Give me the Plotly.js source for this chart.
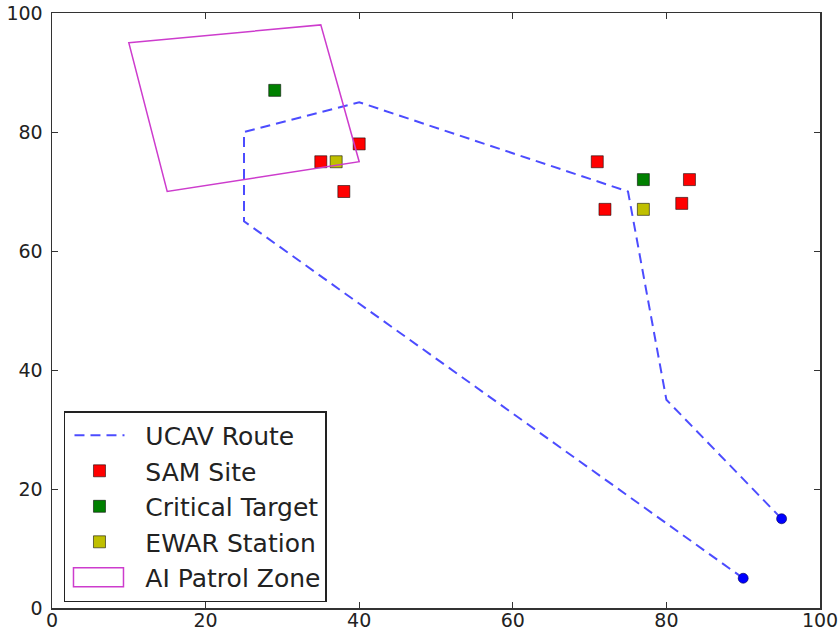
<!DOCTYPE html>
<html>
<head>
<meta charset="utf-8">
<script src="https://cdn.plot.ly/plotly-3.0.1.min.js"></script>
<style>
html,body{margin:0;padding:0;background:#fff;}
#chart{width:840px;height:636px;}
</style>
</head>
<body>
<div id="chart"></div>
<script>
// UCAV route waypoints
const routeX = [90, 25, 25, 40, 75, 80, 95];
const routeY = [5, 65, 80, 85, 70, 35, 15];
// SAM sites
const samX = [35, 40, 38, 71, 72, 83, 82];
const samY = [75, 78, 70, 75, 67, 72, 68];
// Critical targets
const targetX = [29, 77];
const targetY = [87, 72];
// EWAR stations
const ewarX = [37, 77];
const ewarY = [75, 67];
// AI patrol zone polygon
const zoneX = [10, 35, 40, 15];
const zoneY = [95, 98, 75, 70];
// Axis ticks
const tickVals = [0, 20, 40, 60, 80, 100];
// Legend names
const names = ["UCAV Route", "SAM Site", "Critical Target", "EWAR Station", "AI Patrol Zone"];

const font = "DejaVu Sans, sans-serif";
const markerLine = {color: "rgba(0,0,0,0.55)", width: 1};
const zoneColor = "rgb(205,60,205)";
const pad = "\u00a0\u00a0";

const traces = [
  {
    type: "scatter", mode: "lines", name: pad + names[0],
    x: routeX, y: routeY,
    line: {color: "rgba(0,0,255,0.7)", width: 2, dash: "10px,6px"},
    legendgroup: "a", legendrank: 1
  },
  {
    type: "scatter", mode: "markers", name: pad + names[1],
    x: samX, y: samY,
    marker: {symbol: "square", size: 12, color: "#ff0000", line: markerLine},
    legendgroup: "b", legendrank: 2
  },
  {
    type: "scatter", mode: "markers", name: pad + names[2],
    x: targetX, y: targetY,
    marker: {symbol: "square", size: 12, color: "#008000", line: markerLine},
    legendgroup: "c", legendrank: 3
  },
  {
    type: "scatter", mode: "markers", name: pad + names[3],
    x: ewarX, y: ewarY,
    marker: {symbol: "square", size: 12, color: "#bfbf00", line: markerLine},
    legendgroup: "d", legendrank: 4
  },
  {
    type: "scatter", mode: "markers", showlegend: false,
    x: [routeX[0], routeX[routeX.length - 1]],
    y: [routeY[0], routeY[routeY.length - 1]],
    marker: {symbol: "circle", size: 10, color: "#0000ff", line: {color: "rgba(0,0,80,0.6)", width: 1}}
  }
];

const zonePath = zoneX.map((x, i) => (i === 0 ? "M" : "L") + x + "," + zoneY[i]).join(" ") + " Z";

const axisCommon = {
  range: [0, 100], tickvals: tickVals, ticktext: tickVals.map(String),
  ticks: "inside", ticklen: 6, tickwidth: 1, tickcolor: "#333",
  showline: true, linecolor: "#333", linewidth: 1.5, mirror: "ticks",
  showgrid: false, zeroline: false, fixedrange: true,
  tickfont: {family: font, size: 19, color: "#222"}
};

const layout = {
  width: 840, height: 636,
  margin: {l: 52, r: 20, t: 13, b: 28},
  paper_bgcolor: "#fff", plot_bgcolor: "#fff",
  font: {family: font, color: "#222"},
  xaxis: Object.assign({}, axisCommon, {ticklabelstandoff: -5}),
  yaxis: Object.assign({}, axisCommon, {ticklabelstandoff: 4}),
  shapes: [{
    type: "path", xref: "x", yref: "y", path: zonePath,
    line: {color: zoneColor, width: 1.5},
    fillcolor: "rgba(0,0,0,0)",
    showlegend: true, name: pad + names[4], legendgroup: "e", legendrank: 5
  }],
  showlegend: true,
  legend: {
    x: 0.0156, y: 0.331, xanchor: "left", yanchor: "top",
    bgcolor: "#fff", bordercolor: "#222", borderwidth: 1.5,
    font: {family: font, size: 25, color: "#222"},
    tracegroupgap: 9, itemwidth: 50, indentation: 4, traceorder: "normal"
  }
};

Plotly.newPlot("chart", traces, layout, {staticPlot: true, displayModeBar: false}).then(function (gd) {
  // draw the patrol-zone legend key as an outlined rectangle (matplotlib patch style)
  gd.querySelectorAll(".legend .traces").forEach(function (g) {
    const t = g.querySelector("text.legendtext");
    if (!t || t.textContent.indexOf(names[4]) < 0) return;
    const paths = g.querySelectorAll("path");
    paths.forEach(function (p, i) {
      if (i === 0) {
        p.removeAttribute("transform");
        p.setAttribute("d", "M4,-9.5h50v19h-50z");
        p.style.stroke = zoneColor;
        p.style.strokeWidth = "1.5px";
        p.style.fill = "none";
        p.style.opacity = "1";
      } else {
        p.remove();
      }
    });
  });
});
</script>
</body>
</html>
